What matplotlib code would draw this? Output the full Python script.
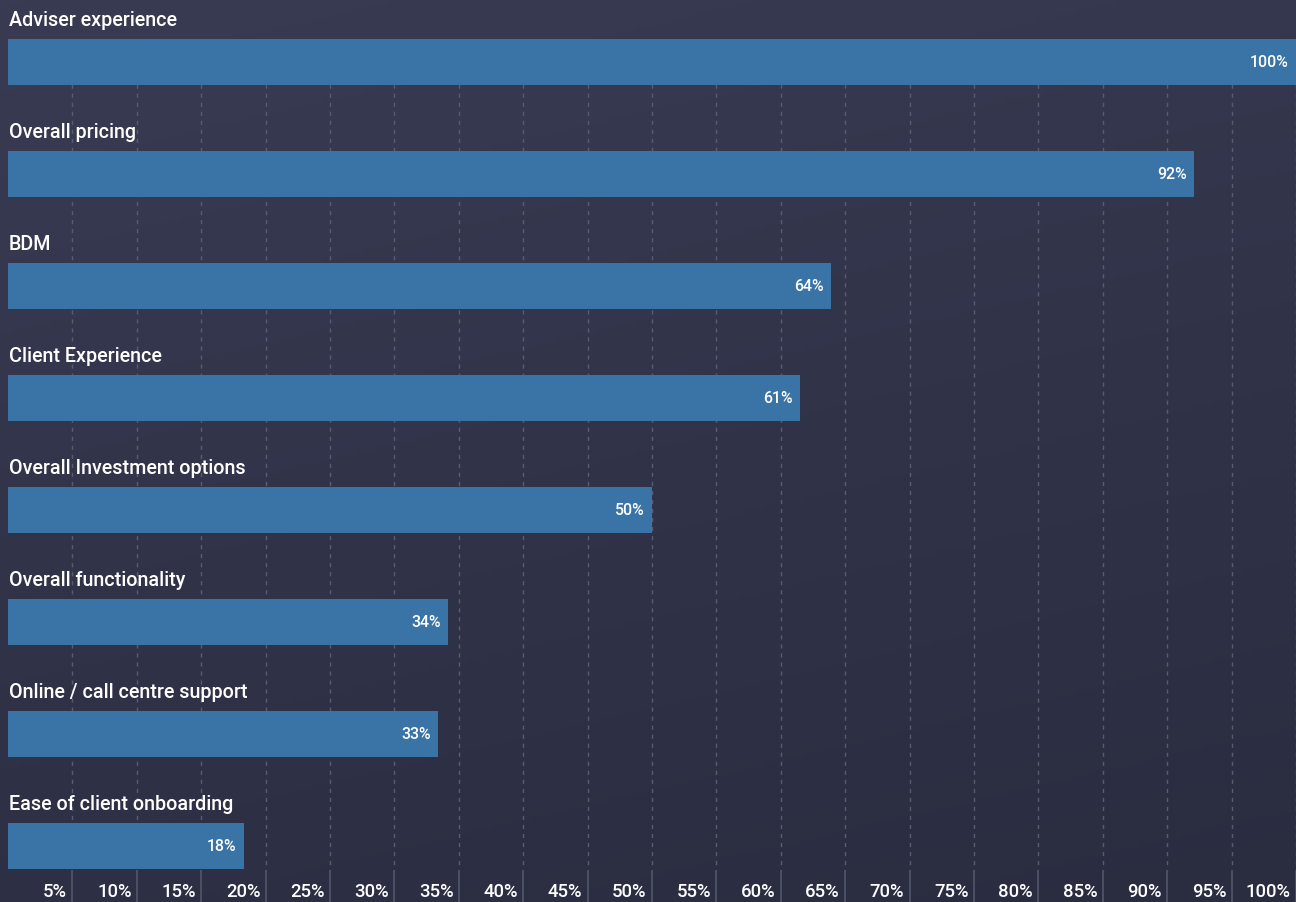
import numpy as np
import matplotlib
matplotlib.use('Agg')
import matplotlib.pyplot as plt
from matplotlib.colors import LinearSegmentedColormap

plt.rcParams['font.family'] = ['Roboto', 'DejaVu Sans']

categories = ['Adviser experience', 'Overall pricing', 'BDM', 'Client Experience',
              'Overall Investment options', 'Overall functionality',
              'Online / call centre support', 'Ease of client onboarding']
values = [100, 92.1, 63.9, 61.5, 50, 34.2, 33.4, 18.3]
value_labels = ['100%', '92%', '64%', '61%', '50%', '34%', '33%', '18%']
ticks = list(range(5, 105, 5))
tick_labels = [f'{t}%' for t in ticks]

bar_color = '#3a74a7'
grid_color = '#585c73'
tick_color = '#52566b'

fig = plt.figure(figsize=(12.96, 9.02), dpi=100)

# background gradient
bg = fig.add_axes([0, 0, 1, 1], zorder=0)
yy, xx = np.mgrid[0:1:200j, 0:1:200j]
grad = 0.75 * yy + 0.25 * xx
cmap = LinearSegmentedColormap.from_list('bg', ['#383b52', '#2a2d40'])
bg.imshow(grad, cmap=cmap, aspect='auto', extent=[0, 1, 1, 0])
bg.set_axis_off()

ax = fig.add_axes([8 / 1296, 0, 1288 / 1296, 1], zorder=1)
ax.patch.set_alpha(0)
ax.set_xlim(0, 100)
ax.set_ylim(7.5, -62 / 112)
for s in ax.spines.values():
    s.set_visible(False)
ax.set_xticks([])
ax.set_yticks([])

y = np.arange(len(categories))
h = 46 / 112
grid_top = -h / 2
grid_mid = (870 - 62) / 112
ax.vlines(ticks, grid_top, grid_mid, colors=grid_color, linewidth=1,
          linestyles=(0, (3, 3.5)), zorder=1)
ax.vlines(ticks, grid_mid, 7.5, colors=tick_color, linewidth=1.2, zorder=1)

ax.barh(y, values, height=h, color=bar_color, zorder=2)

for i, (c, v, vl) in enumerate(zip(categories, values, value_labels)):
    ax.annotate(c, (0, i - h / 2), xytext=(0.8, 6.5), textcoords='offset points',
                ha='left', va='bottom', color='white', fontsize=14.2,
                fontweight='medium', zorder=3)
    ax.annotate(vl, (v, i), xytext=(-5.5, 0), textcoords='offset points',
                ha='right', va='center', color='white', fontsize=11.4,
                fontweight='medium', zorder=3)

label_y = (892 - 62) / 112
for t, lab in zip(ticks, tick_labels):
    ax.annotate(lab, (t, label_y), xytext=(-3.8, 0), textcoords='offset points',
                ha='right', va='center', color='white', fontsize=13.3,
                fontweight='medium', zorder=3)

fig.savefig('out.png', dpi=100)
